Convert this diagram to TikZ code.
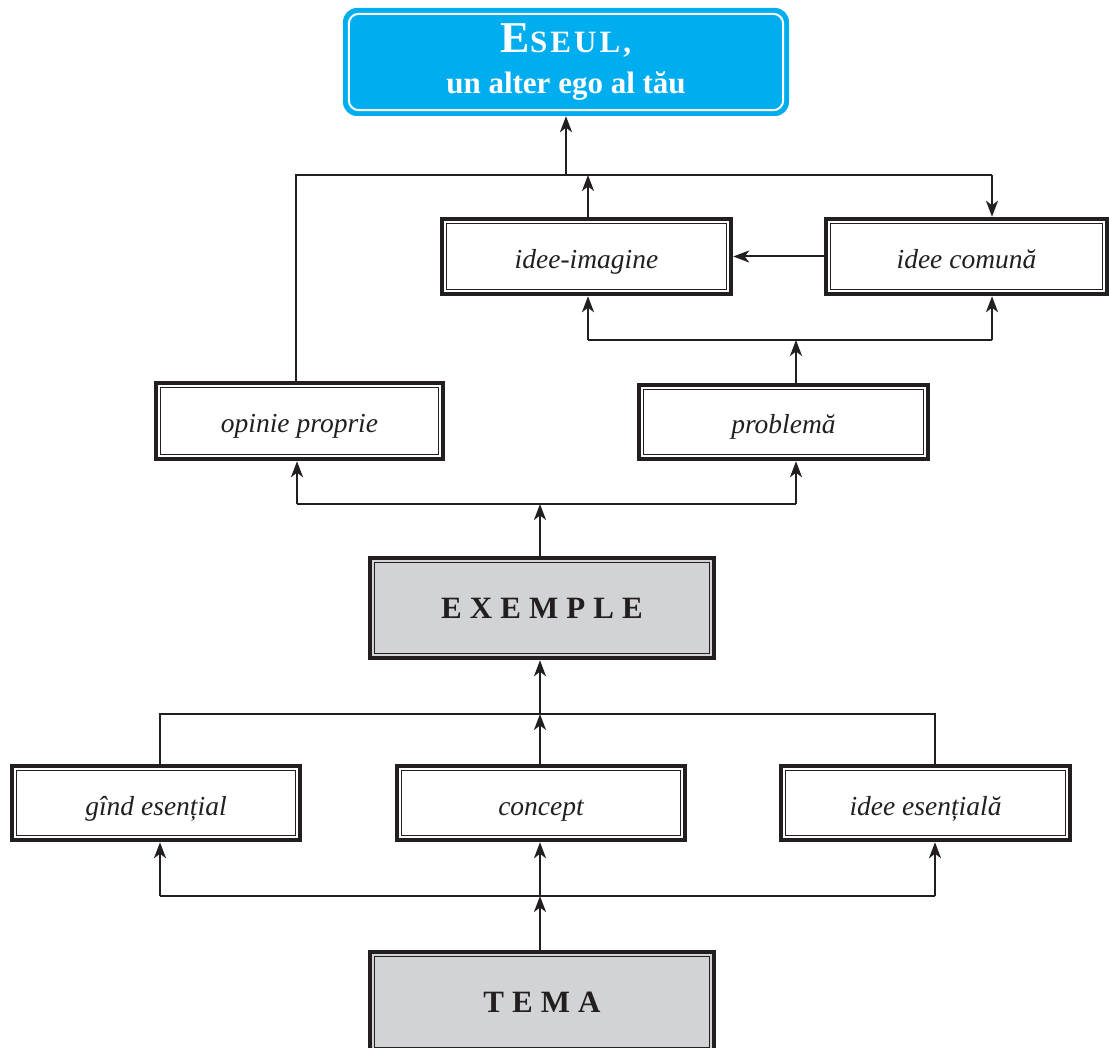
\documentclass[tikz,border=0pt]{standalone}
\usepackage{fontspec}
\setmainfont{Liberation Serif}
\newfontfamily\spacedfont[LetterSpace=26]{Liberation Serif}
\usetikzlibrary{arrows.meta}
\definecolor{ink}{HTML}{231F20}
\definecolor{cyanbox}{HTML}{00AEEF}
\definecolor{greybox}{HTML}{D1D3D4}
\begin{document}
\begin{tikzpicture}[x=1pt,y=1pt,
  box/.style={draw=ink, line width=4.5, fill=white, inner sep=0,
     text height=26, text depth=2,
     font=\fontsize{27.5}{31}\selectfont\itshape, text=ink},
  gbox/.style={draw=ink, line width=4.5, fill=greybox, inner sep=0,
     text height=21, text depth=0,
     font=\spacedfont\fontsize{31}{35}\selectfont\bfseries, text=ink},
  titlebox/.style={fill=cyanbox, rounded corners=14, inner sep=0, text=white, align=center},
  arr/.style={draw=ink, line width=2, -{Stealth[length=16,width=12,inset=4.5]}},
  ln/.style={draw=ink, line width=2}]
\useasboundingbox (0,0) rectangle (1109,-1048);
\clip (0,0) rectangle (1109,-1048);

% title
\node[titlebox, minimum width=446, minimum height=108] (t) at (566,-62)
  {\fontsize{44}{38}\selectfont\bfseries E\fontsize{31}{38}\selectfont\addfontfeatures{LetterSpace=10}SEUL,\\[14pt]
   \fontsize{31}{32}\selectfont\bfseries un alter ego al tău};
\draw[white, line width=2, rounded corners=10]
  ([shift={(6,-6)}]t.north west) rectangle ([shift={(-6,6)}]t.south east);

% boxes
\node[box, minimum width=289, minimum height=75] (ii) at (586.5,-256.5) {idee-imagine};
\node[box, minimum width=281, minimum height=75] (ic) at (966.5,-256.5) {idee comună};
\node[box, minimum width=287, minimum height=76] (op) at (299.5,-421) {opinie proprie};
\node[box, minimum width=289, minimum height=74] (pb) at (783.5,-422) {problemă};
\node[gbox, minimum width=344, minimum height=100] (ex) at (542,-608) {EXEMPLE};
\node[box, minimum width=288, minimum height=74] (ge) at (156,-803) {gînd esențial};
\node[box, minimum width=288, minimum height=74] (co) at (541,-803) {concept};
\node[box, minimum width=289, minimum height=74] (ie) at (925.5,-803) {idee esențială};
\node[gbox, minimum width=344, minimum height=100] (tm) at (542,-1002) {TEMA};

\foreach \n in {ii,ic,op,pb,ge,co,ie,ex,tm}
  \draw[ink, line width=1.4] ([shift={(6.5,-6.5)}]\n.north west) rectangle ([shift={(-6.5,6.5)}]\n.south east);

% junction coordinates
\coordinate (L1) at (296,-175); \coordinate (M1) at (566,-175); \coordinate (R1) at (992,-175);
\coordinate (L2) at (588,-340); \coordinate (M2) at (796,-340); \coordinate (R2) at (992,-340);
\coordinate (L3) at (297,-504); \coordinate (M3) at (540,-504); \coordinate (R3) at (796,-504);
\coordinate (L4) at (160,-714); \coordinate (M4) at (540,-714); \coordinate (R4) at (935,-714);
\coordinate (L5) at (160,-896); \coordinate (M5) at (540,-896); \coordinate (R5) at (935,-896);

% top level
\draw[ln] (L1 |- op.north) -- (L1) -- (R1);
\draw[arr] (R1) -- (R1 |- ic.north);
\draw[arr] (M1) -- (M1 |- t.south);
\draw[arr] (L2 |- ii.north) -- (L2 |- M1);
\draw[arr] (ic.west) -- (ii.east);

% level 2
\draw[ln] (L2) -- (R2);
\draw[arr] (L2) -- (L2 |- ii.south);
\draw[arr] (R2) -- (R2 |- ic.south);
\draw[arr] (M2 |- pb.north) -- (M2);

% level 3
\draw[ln] (L3) -- (R3);
\draw[arr] (L3) -- (L3 |- op.south);
\draw[arr] (R3) -- (R3 |- pb.south);
\draw[arr] (M3 |- ex.north) -- (M3);

% level 4
\draw[ln] (L4 |- ge.north) -- (L4) -- (R4) -- (R4 |- ie.north);
\draw[arr] (M4) -- (M4 |- ex.south);
\draw[arr] (M4 |- co.north) -- (M4);

% level 5
\draw[ln] (L5) -- (R5);
\draw[arr] (L5) -- (L5 |- ge.south);
\draw[arr] (R5) -- (R5 |- ie.south);
\draw[arr] (M5) -- (M5 |- co.south);
\draw[arr] (M5 |- tm.north) -- (M5);
\end{tikzpicture}
\end{document}
